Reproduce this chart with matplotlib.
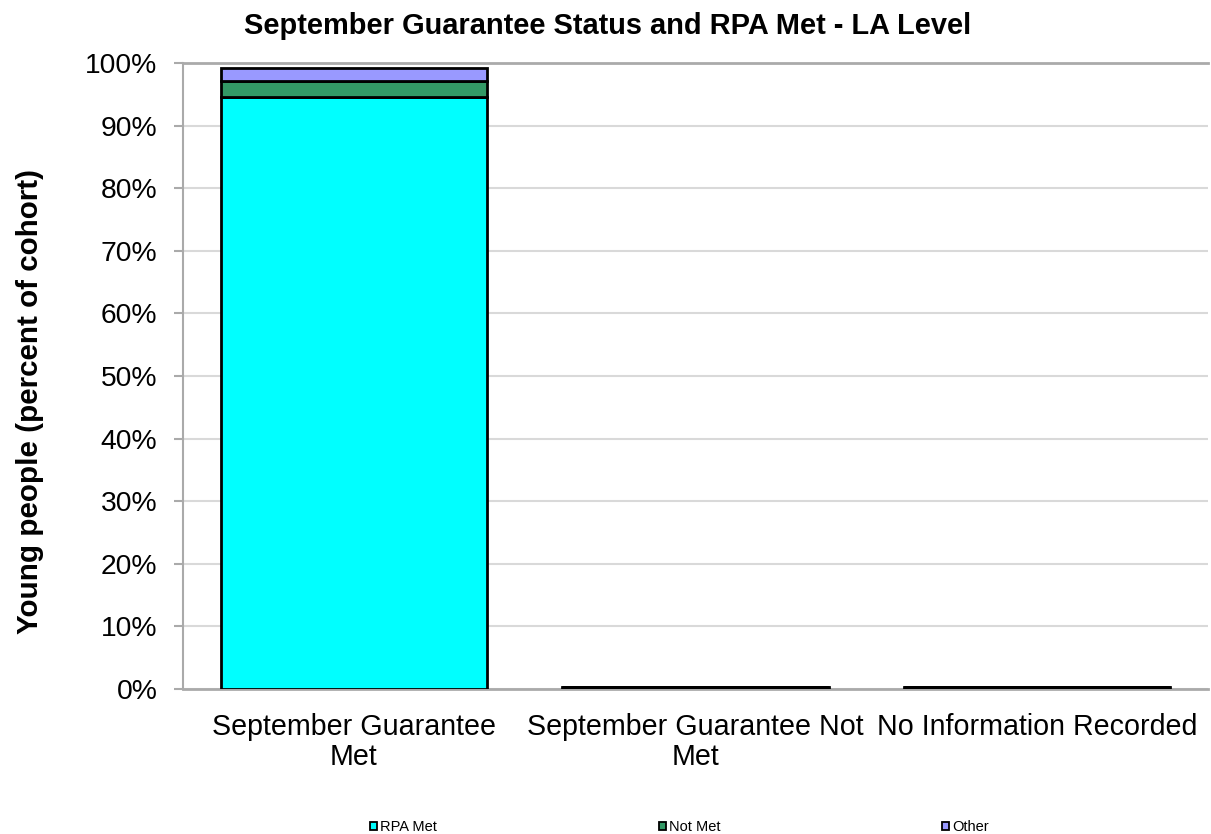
import matplotlib
matplotlib.use("Agg")
import matplotlib.pyplot as plt
import numpy as np
from matplotlib.patches import Patch

categories = ["September Guarantee\nMet", "September Guarantee Not\nMet", "No Information Recorded"]
series_names = ["RPA Met", "Not Met", "Other"]
rpa_met = [94.6, 0.3, 0.3]
not_met = [2.5, 0.0, 0.0]
other = [2.1, 0.0, 0.0]
colors = ["#00FFFF", "#339966", "#9999FF"]
yticks = [0, 10, 20, 30, 40, 50, 60, 70, 80, 90, 100]

plt.rcParams['font.family'] = ['Liberation Sans', 'DejaVu Sans']

W, H = 1211, 834
fig = plt.figure(figsize=(W/100, H/100), dpi=100)
ax = fig.add_axes([183/W, 1 - 689/H, (1208-183)/W, (689-63)/H])

x = np.arange(len(categories))
bottom = np.zeros(len(categories))
for vals, c in zip([rpa_met, not_met, other], colors):
    ax.bar(x, vals, bottom=bottom, width=0.78, color=c, edgecolor="black", linewidth=2, zorder=3)
    bottom += np.array(vals)

ax.set_xlim(-0.5, 2.5)
ax.set_ylim(0, 100)
ax.set_yticks(yticks)
ax.set_yticklabels([f"{t}%" for t in yticks], fontsize=20.3)
ax.set_xticks(x)
ax.set_xticklabels(categories, fontsize=20.6, linespacing=1.1)
ax.tick_params(axis='x', length=0, pad=17)
ax.tick_params(axis='y', length=6.5, width=1.5, color="#AAAAAA", pad=12)
ax.yaxis.grid(True, color="#D9D9D9", linewidth=1.5, zorder=0)
ax.spines["right"].set_visible(False)
ax.spines["top"].set_color("#AAAAAA")
ax.spines["top"].set_linewidth(2)
ax.spines["left"].set_color("#AAAAAA")
ax.spines["left"].set_linewidth(1.5)
ax.spines["bottom"].set_color("#AAAAAA")
ax.spines["bottom"].set_linewidth(2)

ax.set_ylabel("Young people (percent of cohort)", fontsize=21.3, fontweight="bold")
ax.yaxis.set_label_coords((44 - 183)/1025, (689 - 401)/626)
fig.text(608/W, 1 - 26/H, "September Guarantee Status and RPA Met - LA Level",
         fontsize=20.9, fontweight="bold", ha="center", va="center")

handles = [Patch(facecolor=c, edgecolor="black", linewidth=1.3) for c in colors]
fig.legend(handles, series_names, loc="center left", bbox_to_anchor=(370/W, 1 - 827/H),
           ncol=3, frameon=False, fontsize=10.5, handlelength=0.5, handleheight=0.5,
           handletextpad=0.2, columnspacing=15.2, borderpad=0, borderaxespad=0)

fig.savefig("out.png", dpi=100)
